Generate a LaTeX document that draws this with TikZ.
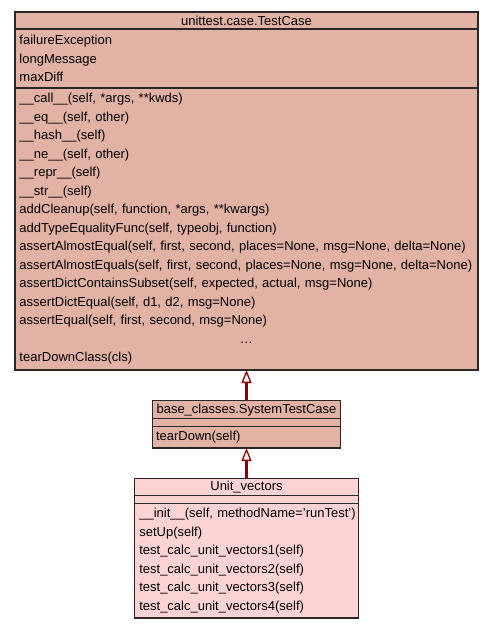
\documentclass[tikz,border=0pt]{standalone}
\usepackage{fontspec}
\setmainfont{Liberation Sans}
\usepackage{tikz}
\usetikzlibrary{positioning, arrows.meta}

\definecolor{classfill}{RGB}{226,178,164}
\definecolor{leaffill}{RGB}{252,211,211}
\definecolor{edgedark}{RGB}{40,40,40}
\definecolor{inheritred}{RGB}{140,0,0}

\begin{document}
\begin{tikzpicture}[
  x=1pt, y=1pt,
  font=\fontsize{13}{18.5}\selectfont,
  part/.style={draw=edgedark, line width=1.2pt, inner xsep=4.5pt, inner ysep=0pt, outer sep=0pt},
  title/.style={part, align=center},
  members/.style={part, align=left},
  inherit/.style={draw=inheritred, line width=2.6pt,
    -{Triangle[width=10pt, length=13pt, fill=white, line width=1.3pt]}}
]
\useasboundingbox (0,0) rectangle (493,-629);

% --- base class: unittest.case.TestCase ---
\node[title, fill=classfill, text width=454pt, minimum height=17pt, anchor=north west]
  (tc) at (15,-12) {unittest.case.TestCase};
\node[members, fill=classfill, text width=454pt, minimum height=59pt, below=0pt of tc]
  (tcattr) {failureException\\longMessage\\maxDiff};
\node[members, fill=classfill, text width=454pt, minimum height=282pt, below=0pt of tcattr]
  (tcops) {\_\_call\_\_(self, *args, **kwds)\\
    \_\_eq\_\_(self, other)\\
    \_\_hash\_\_(self)\\
    \_\_ne\_\_(self, other)\\
    \_\_repr\_\_(self)\\
    \_\_str\_\_(self)\\
    addCleanup(self, function, *args, **kwargs)\\
    addTypeEqualityFunc(self, typeobj, function)\\
    assertAlmostEqual(self, first, second, places=None, msg=None, delta=None)\\
    \mbox{assertAlmostEquals(self, first, second, places=None, msg=None, delta=None)}\\
    assertDictContainsSubset(self, expected, actual, msg=None)\\
    assertDictEqual(self, d1, d2, msg=None)\\
    assertEqual(self, first, second, msg=None)\\
    \hfill\ldots\hfill\null\\
    tearDownClass(cls)};

% --- middle class: base_classes.SystemTestCase ---
\node[title, fill=classfill, text width=181pt, inner xsep=3.6pt, minimum height=18pt, below=30.7pt of tcops]
  (stc) {base\_classes.SystemTestCase};
\node[members, fill=classfill, text width=181pt, inner xsep=3.6pt, minimum height=8pt, below=0pt of stc]
  (stcattr) {};
\node[members, fill=classfill, text width=181pt, inner xsep=3.6pt, minimum height=21.3pt, below=0pt of stcattr]
  (stcops) {tearDown(self)};

% --- leaf class: Unit_vectors ---
\node[title, fill=leaffill, text width=214.4pt, minimum height=17.4pt, below=30.3pt of stcops]
  (uv) {Unit\_vectors};
\node[members, fill=leaffill, text width=214.4pt, minimum height=8pt, below=0pt of uv]
  (uvattr) {};
\node[members, fill=leaffill, text width=214.4pt, minimum height=114.3pt, below=0pt of uvattr]
  (uvops) {\mbox{\_\_init\_\_(self, methodName='runTest')}\\
    setUp(self)\\
    test\_calc\_unit\_vectors1(self)\\
    test\_calc\_unit\_vectors2(self)\\
    test\_calc\_unit\_vectors3(self)\\
    test\_calc\_unit\_vectors4(self)};

% inheritance arrows
\draw[inherit] (stc.north) -- (tcops.south);
\draw[inherit] (uv.north) -- (stcops.south);
\end{tikzpicture}
\end{document}
